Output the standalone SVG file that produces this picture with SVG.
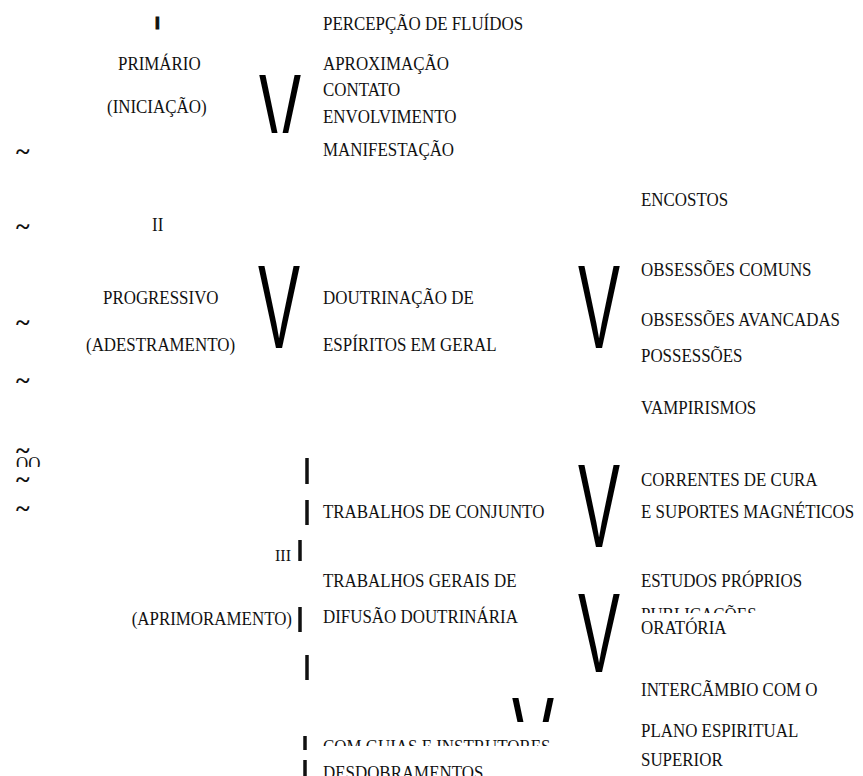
<svg xmlns="http://www.w3.org/2000/svg" width="863" height="776" viewBox="0 0 863 776">
<style>
text{font-family:"Liberation Serif","Times New Roman",serif;font-size:18px;fill:#111}
.v{font-family:"Liberation Sans",Arial,sans-serif;font-size:63px;fill:#000}
.num{font-size:17px}
.til{font-size:26px;font-weight:bold}
.bar{stroke:#111;stroke-width:3.5}
</style>
<defs>
<clipPath id="cV1"><rect x="240" y="60" width="80" height="73"/></clipPath>
<clipPath id="cV6"><rect x="495" y="680" width="80" height="42"/></clipPath>
<clipPath id="cPub"><rect x="630" y="590" width="160" height="23"/></clipPath>
<clipPath id="cCom"><rect x="315" y="730" width="250" height="16"/></clipPath>
<clipPath id="cOO"><rect x="10" y="455" width="40" height="12"/></clipPath>
</defs>
<rect width="863" height="776" fill="#fff"/>

<g id="margem">
<text class="til" transform="translate(16 160)">~</text>
<text class="til" transform="translate(16 235)">~</text>
<text class="til" transform="translate(16 331)">~</text>
<text class="til" transform="translate(16 389)">~</text>
<text class="til" transform="translate(16 459)">~</text>
<g clip-path="url(#cOO)"><text transform="translate(16 470) scale(.94 1)">OO</text></g>
<text class="til" transform="translate(16 488)">~</text>
<text class="til" transform="translate(16 517)">~</text>
</g>

<g id="nivel-1">
<text transform="translate(155 29)" style="font-family:'Liberation Sans',Arial,sans-serif;font-weight:bold;font-size:17px;stroke:#111;stroke-width:1.2">I</text>
<text transform="translate(118 70) scale(.94 1)">PRIMÁRIO</text>
<text transform="translate(107 113) scale(.94 1)">(INICIAÇÃO)</text>
</g>

<g id="itens-1">
<text transform="translate(323 30) scale(.94 1)">PERCEPÇÃO DE FLUÍDOS</text>
<text transform="translate(323 70) scale(.94 1)">APROXIMAÇÃO</text>
<text transform="translate(323 96) scale(.94 1)">CONTATO</text>
<text transform="translate(323 123) scale(.94 1)">ENVOLVIMENTO</text>
<text transform="translate(323 156) scale(.94 1)">MANIFESTAÇÃO</text>
</g>

<g id="nivel-2">
<text transform="translate(152 231) scale(.94 1)">II</text>
<text transform="translate(103 304) scale(.94 1)">PROGRESSIVO</text>
<text transform="translate(86 351) scale(.94 1)">(ADESTRAMENTO)</text>
</g>

<g id="itens-2">
<text transform="translate(323 304) scale(.94 1)">DOUTRINAÇÃO DE</text>
<text transform="translate(323 351) scale(.94 1)">ESPÍRITOS EM GERAL</text>
</g>

<g id="subitens-2">
<text transform="translate(641 206) scale(.94 1)">ENCOSTOS</text>
<text transform="translate(641 276) scale(.94 1)">OBSESSÕES COMUNS</text>
<text transform="translate(641 326) scale(.94 1)">OBSESSÕES AVANCADAS</text>
<text transform="translate(641 362) scale(.94 1)">POSSESSÕES</text>
<text transform="translate(641 414) scale(.94 1)">VAMPIRISMOS</text>
</g>

<g id="nivel-3">
<text class="num" text-anchor="end" transform="translate(291 561) scale(.94 1)">III</text>
<text text-anchor="end" transform="translate(292 625) scale(.94 1)">(APRIMORAMENTO)</text>
</g>

<g id="itens-3">
<text transform="translate(323 518) scale(.94 1)">TRABALHOS DE CONJUNTO</text>
<text transform="translate(323 587) scale(.94 1)">TRABALHOS GERAIS DE</text>
<text transform="translate(323 623) scale(.94 1)">DIFUSÃO DOUTRINÁRIA</text>
<g clip-path="url(#cCom)"><text transform="translate(323 753) scale(.94 1)">COM GUIAS E INSTRUTORES</text></g>
<text transform="translate(323 779) scale(.94 1)">DESDOBRAMENTOS</text>
</g>

<g id="subitens-3">
<text transform="translate(641 486) scale(.94 1)">CORRENTES DE CURA</text>
<text transform="translate(641 518) scale(.94 1)">E SUPORTES MAGNÉTICOS</text>
<text transform="translate(641 587) scale(.94 1)">ESTUDOS PRÓPRIOS</text>
<g clip-path="url(#cPub)"><text transform="translate(641 621) scale(.94 1)">PUBLICAÇÕES</text></g>
<text transform="translate(641 634) scale(.94 1)">ORATÓRIA</text>
<text transform="translate(641 696) scale(.94 1)">INTERCÃMBIO COM O</text>
<text transform="translate(641 737) scale(.94 1)">PLANO ESPIRITUAL</text>
<text transform="translate(641 766) scale(.94 1)">SUPERIOR</text>
</g>

<g id="conectores">
<g clip-path="url(#cV1)"><text class="v" transform="translate(259 157) scale(1 1.885)">V</text></g>
<text class="v" transform="translate(258 348) scale(1 1.885)">V</text>
<text class="v" transform="translate(578 348) scale(1 1.885)">V</text>
<text class="v" transform="translate(578 547) scale(1 1.885)">V</text>
<text class="v" transform="translate(578 672) scale(1 1.8)">V</text>
<g clip-path="url(#cV6)"><text class="v" transform="translate(512 780) scale(1 1.885)">V</text></g>
<line class="bar" x1="307" y1="458" x2="307" y2="484"/>
<line class="bar" x1="307" y1="500" x2="307" y2="525"/>
<line class="bar" x1="300" y1="540" x2="300" y2="561"/>
<line class="bar" x1="300" y1="607" x2="300" y2="632"/>
<line class="bar" x1="307" y1="655" x2="307" y2="680"/>
<line class="bar" x1="305" y1="736" x2="305" y2="750"/>
<line class="bar" x1="305" y1="760" x2="305" y2="776"/>
</g>
</svg>
